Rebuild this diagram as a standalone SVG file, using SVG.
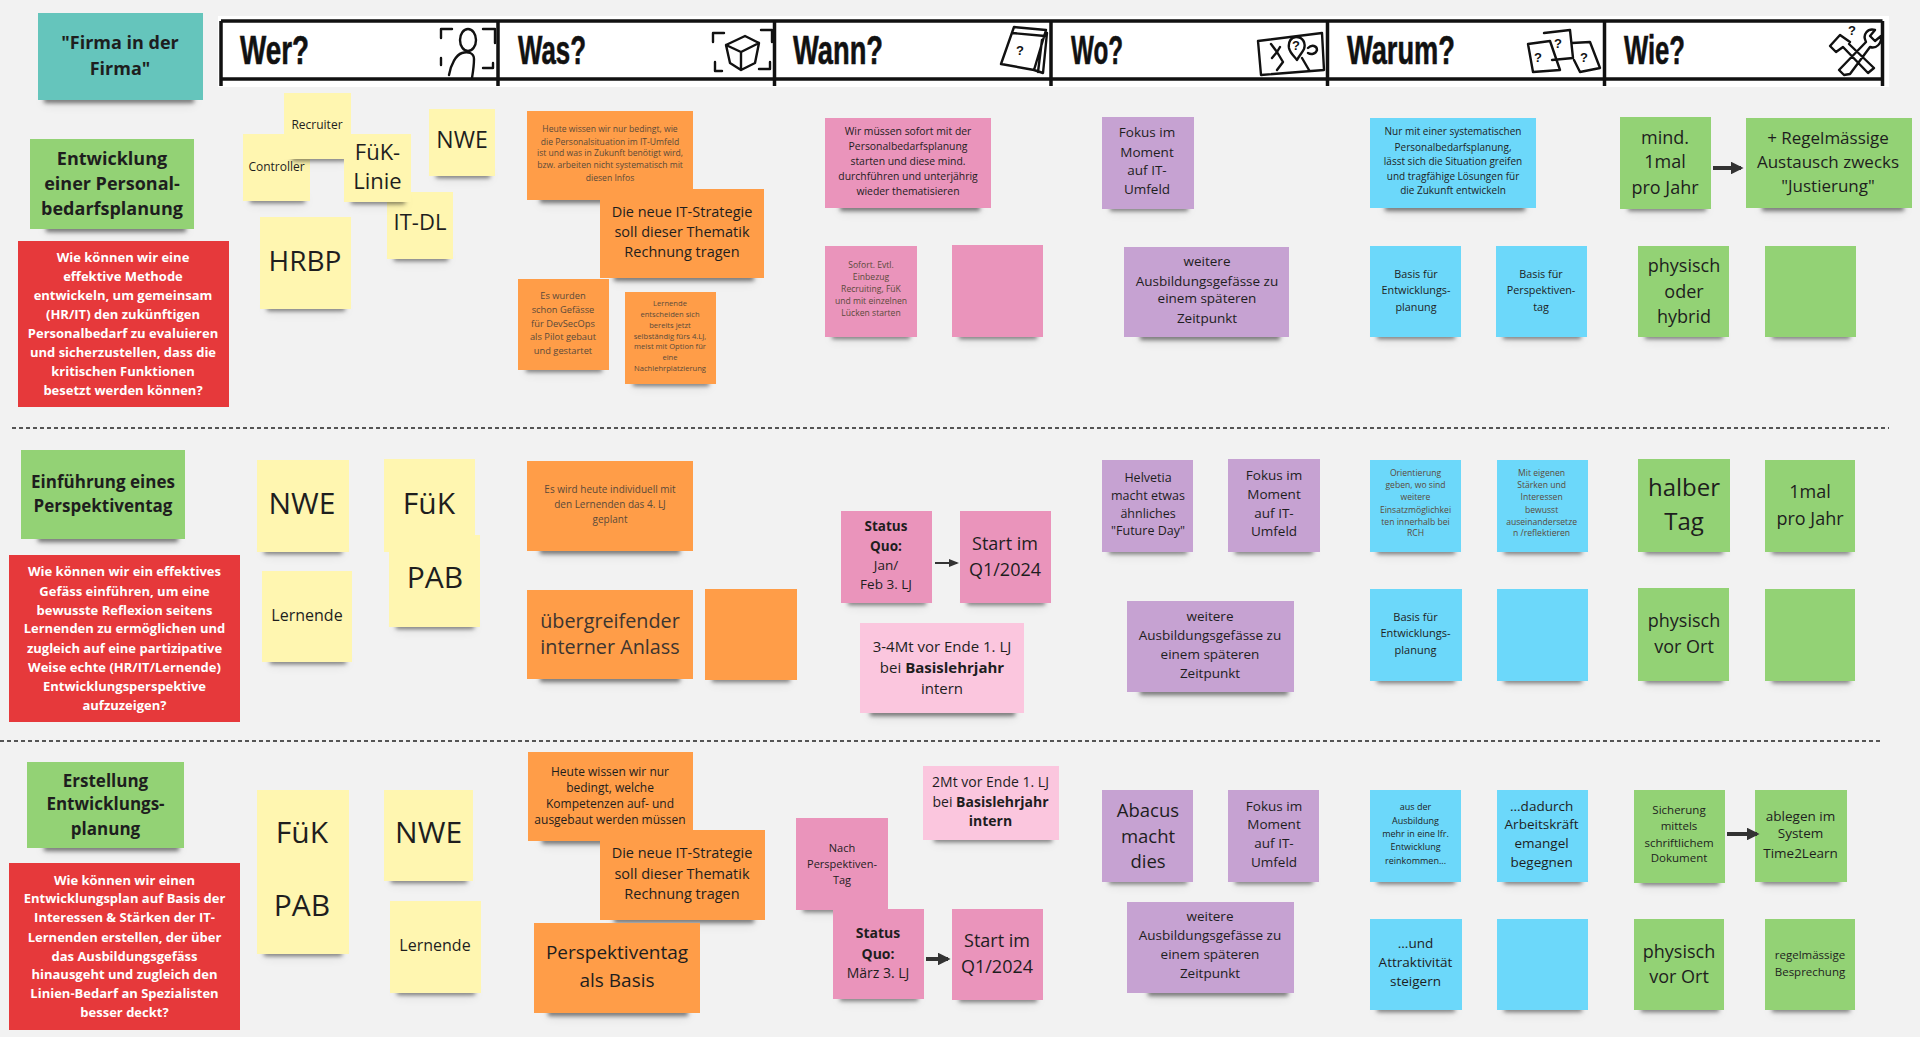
<svg xmlns="http://www.w3.org/2000/svg" width="1920" height="1037" viewBox="0 0 1920 1037">
<style>
.t{font-family:"Open Sans","Liberation Sans",sans-serif;text-anchor:middle;dominant-baseline:central;fill:#1e1e1e;transform:translateY(-.07em)}
.b{font-weight:700}
.w{fill:#fff;font-weight:700}
.l{fill:#5a4a3a}
.m{fill:#3d3530}
.sh{fill:#000;filter:url(#sf)}
.y{fill:#fff6b0}.o{fill:#ff9d48}.p{fill:#ea94bb}.v{fill:#c6a2d2}.c{fill:#6cd8fa}.g{fill:#93d275}.r{fill:#e6393b}.e{fill:#65c5bc}.q{fill:#fbc6de}
.hl{stroke:#111;stroke-width:3.5;fill:none}
.hd{font-family:"Liberation Sans Narrow","Liberation Sans",sans-serif;font-weight:700;font-size:41px;fill:#111;stroke:#111;stroke-width:.6}
.ic{stroke:#111;stroke-width:2.4;fill:none;stroke-linecap:round;stroke-linejoin:round}
.qm{font-family:"Liberation Sans",sans-serif;font-weight:700;font-size:13px;fill:#111;text-anchor:middle;dominant-baseline:central}
.d{stroke:#555;stroke-width:2;stroke-dasharray:4 3;fill:none}
.a{stroke:#333;fill:none}
</style>
<defs>
<filter id="sf" x="-20%" y="-300%" width="140%" height="800%">
<feGaussianBlur in="SourceAlpha" stdDeviation="2" result="a"/>
<feGaussianBlur in="SourceAlpha" stdDeviation="6" result="b"/>
<feComponentTransfer in="a" result="a2"><feFuncA type="linear" slope=".5"/></feComponentTransfer>
<feComponentTransfer in="b" result="b2"><feFuncA type="linear" slope=".15"/></feComponentTransfer>
<feMerge><feMergeNode in="b2"/><feMergeNode in="a2"/></feMerge>
</filter>
<marker id="ah" viewBox="0 0 10 10" refX="8" refY="5" markerWidth="3.2" markerHeight="3.2" orient="auto"><path d="M0 0L10 5L0 10z" fill="#333"/></marker>
<marker id="at" viewBox="0 0 10 10" refX="8" refY="5" markerWidth="5" markerHeight="5" orient="auto"><path d="M0 1L10 5L0 9z" fill="#333"/></marker>
</defs>
<rect width="1920" height="1037" fill="#f2f2f2"/>

<g id="header">
<rect x="218" y="16" width="1671" height="71" fill="#fff"/>
<path class="hl" d="M221 21H1882.5M221 79H1882.5M221 21V86M498 21V86M774.5 21V86M1051 21V86M1327.5 21V86M1604.5 21V86M1882.5 21V86"/>
<text class="hd" x="240" y="64" textLength="69" lengthAdjust="spacingAndGlyphs">Wer?</text>
<text class="hd" x="518" y="64" textLength="68" lengthAdjust="spacingAndGlyphs">Was?</text>
<text class="hd" x="793" y="64" textLength="90" lengthAdjust="spacingAndGlyphs">Wann?</text>
<text class="hd" x="1071" y="64" textLength="52" lengthAdjust="spacingAndGlyphs">Wo?</text>
<text class="hd" x="1347" y="64" textLength="108" lengthAdjust="spacingAndGlyphs">Warum?</text>
<text class="hd" x="1624" y="64" textLength="61" lengthAdjust="spacingAndGlyphs">Wie?</text>
<path class="ic" d="M441 38V29H452M483 29H495V43M441 58V65M483 68H493V63"/>
<ellipse class="ic" cx="468" cy="40" rx="8" ry="11"/>
<path class="ic" d="M449 75C451 64 456 55 462 53C468 51 474 53 474 59C474 66 473 72 472 78"/>
<path class="ic" d="M713 42V33H724M761 30H772V42M715 62V71H722M759 69H770V62"/>
<path class="ic" d="M726 45L745 36L759 43L755 63L741 70L730 63ZM726 45L741 52L759 43M741 52V70"/>
<path class="ic" d="M1014 27L1046 30L1034 70L1001 64ZM1012 33L1045 36M1047 33L1043 73L1034 70M1042 40L1038 72"/>
<text class="qm" x="1020" y="50">?</text>
<path class="ic" d="M1258 41L1322 33L1324 70L1261 75Z"/>
<path class="ic" d="M1296 37C1303 37 1306 43 1304 49C1302 53 1299 56 1297 60C1294 56 1290 53 1289 48C1288 42 1291 37 1296 37ZM1271 44L1277 52L1272 58M1280 47L1277 52L1283 62L1277 70M1302 58L1309 70M1308 48C1312 44 1317 46 1317 50C1316 54 1311 55 1308 53"/>
<text class="qm" x="1296" y="45" font-size="11">?</text>
<path class="ic" d="M1528 44L1550 41L1560 70L1533 72ZM1544 33L1570 30L1573 58L1552 60M1572 43L1590 42L1600 68L1580 72L1574 60"/>
<text class="qm" x="1538" y="57">?</text><text class="qm" x="1558" y="43">?</text><text class="qm" x="1584" y="57">?</text>
<path class="ic" d="M1850 42L1840 35L1830 46L1836 52L1843 47L1868 73L1874 68L1849 44M1844 75L1839 70L1866 42C1862 34 1868 28 1875 30L1870 36L1875 41L1881 36C1882 44 1876 49 1870 47L1850 74Z"/>
<text class="qm" x="1852" y="30">?</text>
</g>

<g id="separators">
<path class="d" d="M12 428H1889"/>
<path class="d" d="M0 741H1881"/>
</g>

<g id="title"><rect class="sh" x="44" y="97" width="150" height="6"/><rect class="e" x="38" y="13" width="165" height="87"/><text class="t b" font-size="18"><tspan x="120" y="43">"Firma in der</tspan><tspan x="120" y="69">Firma"</tspan></text></g>

<!-- Row 1 -->
<g id="r1-title"><rect class="sh" x="46" y="226" width="140" height="6"/><rect class="g" x="30" y="139" width="164" height="90"/><text class="t b" font-size="18"><tspan x="112" y="159">Entwicklung</tspan><tspan x="112" y="184">einer Personal-</tspan><tspan x="112" y="209">bedarfsplanung</tspan></text></g>
<g id="r1-frage"><rect class="r" x="18" y="241" width="211" height="166"/><text class="t w" font-size="13"><tspan x="123" y="258">Wie können wir eine</tspan><tspan x="123" y="277">effektive Methode</tspan><tspan x="123" y="296">entwickeln, um gemeinsam</tspan><tspan x="123" y="315">(HR/IT) den zukünftigen</tspan><tspan x="123" y="334">Personalbedarf zu evaluieren</tspan><tspan x="123" y="353">und sicherzustellen, dass die</tspan><tspan x="123" y="372">kritischen Funktionen</tspan><tspan x="123" y="391">besetzt werden können?</tspan></text></g>
<g id="r1-controller"><rect class="sh" x="250" y="198" width="55" height="5"/><rect class="y" x="243" y="134" width="67" height="67"/><text class="t" font-size="12" x="276.5" y="167">Controller</text></g>
<g id="r1-recruiter"><rect class="sh" x="292" y="156" width="55" height="5"/><rect class="y" x="284" y="93" width="67" height="66"/><text class="t" font-size="12" x="317" y="125">Recruiter</text></g>
<g id="r1-itdl"><rect class="sh" x="394" y="256" width="54" height="5"/><rect class="y" x="387" y="192" width="66" height="67"/><text class="t" font-size="22" x="420" y="223">IT-DL</text></g>
<g id="r1-fuek"><rect class="sh" x="351" y="199" width="54" height="5"/><rect class="y" x="344" y="134" width="67" height="68"/><text class="t" font-size="22"><tspan x="377.5" y="153">FüK-</tspan><tspan x="377.5" y="182">Linie</tspan></text></g>
<g id="r1-nwe"><rect class="sh" x="436" y="173" width="54" height="5"/><rect class="y" x="429" y="109" width="66" height="67"/><text class="t" font-size="23" x="462" y="141">NWE</text></g>
<g id="r1-hrbp"><rect class="sh" x="267" y="306" width="78" height="5"/><rect class="y" x="260" y="217" width="91" height="92"/><text class="t" font-size="28" x="305" y="262">HRBP</text></g>
<g id="r1-was1"><rect class="sh" x="540" y="197" width="140" height="6"/><rect class="o" x="527" y="111" width="166" height="89"/><text class="t l" font-size="8.6"><tspan x="610" y="130">Heute wissen wir nur bedingt, wie</tspan><tspan x="610" y="143">die Personalsituation im IT-Umfeld</tspan><tspan x="610" y="154">ist und was in Zukunft benötigt wird,</tspan><tspan x="610" y="166">bzw. arbeiten nicht systematisch mit</tspan><tspan x="610" y="179">diesen Infos</tspan></text></g>
<g id="r1-was2"><rect class="sh" x="614" y="275" width="140" height="6"/><rect class="o" x="600" y="189" width="164" height="89"/><text class="t" font-size="14.5"><tspan x="682" y="212">Die neue IT-Strategie</tspan><tspan x="682" y="232">soll dieser Thematik</tspan><tspan x="682" y="252">Rechnung tragen</tspan></text></g>
<g id="r1-was3"><rect class="sh" x="526" y="367" width="76" height="5"/><rect class="o" x="518" y="279" width="91" height="91"/><text class="t l" font-size="9.3"><tspan x="563" y="296">Es wurden</tspan><tspan x="563" y="310">schon Gefässe</tspan><tspan x="563" y="324">für DevSecOps</tspan><tspan x="563" y="337">als Pilot gebaut</tspan><tspan x="563" y="351">und gestartet</tspan></text></g>
<g id="r1-was4"><rect class="sh" x="633" y="381" width="76" height="5"/><rect class="o" x="625" y="292" width="91" height="92"/><text class="t l" font-size="7.6"><tspan x="670" y="304">Lernende</tspan><tspan x="670" y="315">entscheiden sich</tspan><tspan x="670" y="326">bereits jetzt</tspan><tspan x="670" y="337">selbständig fürs 4.LJ,</tspan><tspan x="670" y="347">meist mit Option für</tspan><tspan x="670" y="358">eine</tspan><tspan x="670" y="369">Nachlehrplatzierung</tspan></text></g>
<g id="r1-wann1"><rect class="sh" x="840" y="205" width="140" height="6"/><rect class="p" x="825" y="118" width="166" height="90"/><text class="t" font-size="10.4"><tspan x="908" y="132">Wir müssen sofort mit der</tspan><tspan x="908" y="147">Personalbedarfsplanung</tspan><tspan x="908" y="162">starten und diese mind.</tspan><tspan x="908" y="177">durchführen und unterjährig</tspan><tspan x="908" y="192">wieder thematisieren</tspan></text></g>
<g id="r1-wann2"><rect class="sh" x="832" y="334" width="78" height="5"/><rect class="p" x="825" y="246" width="92" height="91"/><text class="t l" font-size="8.6"><tspan x="871" y="266">Sofort. Evtl.</tspan><tspan x="871" y="278">Einbezug</tspan><tspan x="871" y="290">Recruiting, FüK</tspan><tspan x="871" y="302">und mit einzelnen</tspan><tspan x="871" y="314">Lücken starten</tspan></text></g>
<g id="r1-wann3"><rect class="sh" x="959" y="334" width="78" height="5"/><rect class="p" x="952" y="245" width="91" height="92"/></g>
<g id="r1-wo1"><rect class="sh" x="1110" y="206" width="78" height="5"/><rect class="v" x="1102" y="117" width="92" height="92"/><text class="t" font-size="13.5"><tspan x="1147" y="133">Fokus im</tspan><tspan x="1147" y="153">Moment</tspan><tspan x="1147" y="171">auf IT-</tspan><tspan x="1147" y="190">Umfeld</tspan></text></g>
<g id="r1-wo2"><rect class="sh" x="1140" y="334" width="140" height="6"/><rect class="v" x="1124" y="247" width="165" height="90"/><text class="t" font-size="13.5"><tspan x="1207" y="262">weitere</tspan><tspan x="1207" y="282">Ausbildungsgefässe zu</tspan><tspan x="1207" y="299">einem späteren</tspan><tspan x="1207" y="319">Zeitpunkt</tspan></text></g>
<g id="r1-warum1"><rect class="sh" x="1385" y="205" width="140" height="6"/><rect class="c" x="1370" y="118" width="166" height="90"/><text class="t" font-size="10"><tspan x="1453" y="132">Nur mit einer systematischen</tspan><tspan x="1453" y="148">Personalbedarfsplanung,</tspan><tspan x="1453" y="162">lässt sich die Situation greifen</tspan><tspan x="1453" y="177">und tragfähige Lösungen für</tspan><tspan x="1453" y="191">die Zukunft entwickeln</tspan></text></g>
<g id="r1-warum2"><rect class="sh" x="1377" y="334" width="78" height="5"/><rect class="c" x="1370" y="246" width="91" height="91"/><text class="t" font-size="10.8"><tspan x="1416" y="274">Basis für</tspan><tspan x="1416" y="290">Entwicklungs-</tspan><tspan x="1416" y="307">planung</tspan></text></g>
<g id="r1-warum3"><rect class="sh" x="1503" y="334" width="78" height="5"/><rect class="c" x="1496" y="246" width="91" height="91"/><text class="t" font-size="10.8"><tspan x="1541" y="274">Basis für</tspan><tspan x="1541" y="290">Perspektiven-</tspan><tspan x="1541" y="307">tag</tspan></text></g>
<g id="r1-wie1"><rect class="sh" x="1628" y="206" width="78" height="5"/><rect class="g" x="1620" y="117" width="91" height="92"/><text class="t" font-size="18"><tspan x="1665" y="138">mind.</tspan><tspan x="1665" y="162">1mal</tspan><tspan x="1665" y="188">pro Jahr</tspan></text></g>
<g id="r1-wie2"><rect class="sh" x="1762" y="205" width="142" height="6"/><rect class="g" x="1746" y="118" width="166" height="90"/><text class="t" font-size="17"><tspan x="1828" y="138">+ Regelmässige</tspan><tspan x="1828" y="162">Austausch zwecks</tspan><tspan x="1828" y="186">"Justierung"</tspan></text></g>
<g id="r1-wie3"><rect class="sh" x="1645" y="334" width="78" height="5"/><rect class="g" x="1638" y="246" width="91" height="91"/><text class="t" font-size="18"><tspan x="1684" y="266">physisch</tspan><tspan x="1684" y="292">oder</tspan><tspan x="1684" y="317">hybrid</tspan></text></g>
<g id="r1-wie4"><rect class="sh" x="1772" y="334" width="78" height="5"/><rect class="g" x="1765" y="246" width="91" height="91"/></g>

<!-- Row 2 -->
<g id="r2-title"><rect class="sh" x="38" y="536" width="140" height="6"/><rect class="g" x="21" y="450" width="164" height="89"/><text class="t b" font-size="17"><tspan x="103" y="482">Einführung eines</tspan><tspan x="103" y="506">Perspektiventag</tspan></text></g>
<g id="r2-frage"><rect class="r" x="9" y="555" width="231" height="167"/><text class="t w" font-size="13"><tspan x="124.5" y="572">Wie können wir ein effektives</tspan><tspan x="124.5" y="592">Gefäss einführen, um eine</tspan><tspan x="124.5" y="611">bewusste Reflexion seitens</tspan><tspan x="124.5" y="629">Lernenden zu ermöglichen und</tspan><tspan x="124.5" y="649">zugleich auf eine partizipative</tspan><tspan x="124.5" y="668">Weise echte (HR/IT/Lernende)</tspan><tspan x="124.5" y="687">Entwicklungsperspektive</tspan><tspan x="124.5" y="706">aufzuzeigen?</tspan></text></g>
<g id="r2-nwe"><rect class="sh" x="264" y="549" width="78" height="5"/><rect class="y" x="257" y="460" width="92" height="92"/><text class="t" font-size="30" x="302" y="505">NWE</text></g>
<g id="r2-fuek"><rect class="y" x="384" y="459" width="91" height="93"/><text class="t" font-size="30" x="429" y="505">FüK</text></g>
<g id="r2-lernende"><rect class="sh" x="270" y="659" width="76" height="5"/><rect class="y" x="262" y="571" width="90" height="91"/><text class="t" font-size="16" x="307" y="616">Lernende</text></g>
<g id="r2-pab"><rect class="sh" x="396" y="624" width="78" height="5"/><rect class="y" x="389" y="535" width="91" height="92"/><text class="t" font-size="30" x="435" y="579">PAB</text></g>
<g id="r2-was1"><rect class="sh" x="540" y="548" width="140" height="6"/><rect class="o" x="527" y="461" width="166" height="90"/><text class="t l" font-size="10"><tspan x="610" y="490">Es wird heute individuell mit</tspan><tspan x="610" y="505">den Lernenden das 4. LJ</tspan><tspan x="610" y="520">geplant</tspan></text></g>
<g id="r2-was2"><rect class="sh" x="540" y="676" width="140" height="6"/><rect class="o" x="527" y="590" width="166" height="89"/><text class="t m" font-size="19.8"><tspan x="610" y="621">übergreifender</tspan><tspan x="610" y="647">interner Anlass</tspan></text></g>
<g id="r2-was3"><rect class="sh" x="712" y="677" width="78" height="5"/><rect class="o" x="705" y="589" width="92" height="91"/></g>
<g id="r2-wann1"><rect class="sh" x="848" y="600" width="78" height="5"/><rect class="p" x="841" y="511" width="91" height="92"/><text class="t" font-size="13.5"><tspan x="886" y="527" class="b">Status</tspan><tspan x="886" y="547" class="b">Quo:</tspan><tspan x="886" y="566">Jan/</tspan><tspan x="886" y="585">Feb 3. LJ</tspan></text></g>
<g id="r2-wann2"><rect class="sh" x="967" y="600" width="78" height="5"/><rect class="p" x="960" y="511" width="91" height="92"/><text class="t" font-size="18"><tspan x="1005" y="544">Start im</tspan><tspan x="1005" y="570">Q1/2024</tspan></text></g>
<g id="r2-wann3"><rect class="sh" x="870" y="710" width="145" height="6"/><rect class="q" x="860" y="623" width="164" height="90"/><text class="t" font-size="15"><tspan x="942" y="647">3-4Mt vor Ende 1. LJ</tspan><tspan x="942" y="668">bei <tspan class="b">Basislehrjahr</tspan></tspan><tspan x="942" y="689">intern</tspan></text></g>
<g id="r2-wo1"><rect class="sh" x="1109" y="549" width="78" height="5"/><rect class="v" x="1102" y="460" width="91" height="92"/><text class="t" font-size="12.5"><tspan x="1148" y="478">Helvetia</tspan><tspan x="1148" y="496">macht etwas</tspan><tspan x="1148" y="514">ähnliches</tspan><tspan x="1148" y="531">"Future Day"</tspan></text></g>
<g id="r2-wo2"><rect class="sh" x="1235" y="549" width="78" height="5"/><rect class="v" x="1228" y="459" width="92" height="93"/><text class="t" font-size="13.5"><tspan x="1274" y="476">Fokus im</tspan><tspan x="1274" y="495">Moment</tspan><tspan x="1274" y="514">auf IT-</tspan><tspan x="1274" y="532">Umfeld</tspan></text></g>
<g id="r2-wo3"><rect class="sh" x="1140" y="689" width="148" height="6"/><rect class="v" x="1127" y="601" width="167" height="91"/><text class="t" font-size="13.5"><tspan x="1210" y="617">weitere</tspan><tspan x="1210" y="636">Ausbildungsgefässe zu</tspan><tspan x="1210" y="655">einem späteren</tspan><tspan x="1210" y="674">Zeitpunkt</tspan></text></g>
<g id="r2-warum1"><rect class="sh" x="1377" y="549" width="78" height="5"/><rect class="c" x="1370" y="460" width="91" height="92"/><text class="t l" font-size="8.6"><tspan x="1415.5" y="474">Orientierung</tspan><tspan x="1415.5" y="486">geben, wo sind</tspan><tspan x="1415.5" y="498">weitere</tspan><tspan x="1415.5" y="511">Einsatzmöglichkei</tspan><tspan x="1415.5" y="523">ten innerhalb bei</tspan><tspan x="1415.5" y="534">RCH</tspan></text></g>
<g id="r2-warum2"><rect class="sh" x="1504" y="549" width="78" height="5"/><rect class="c" x="1497" y="460" width="91" height="92"/><text class="t l" font-size="8.6"><tspan x="1541.6" y="474">Mit eigenen</tspan><tspan x="1541.6" y="486">Stärken und</tspan><tspan x="1541.6" y="498">Interessen</tspan><tspan x="1541.6" y="511">bewusst</tspan><tspan x="1541.6" y="523">auseinandersetze</tspan><tspan x="1541.6" y="534">n /reflektieren</tspan></text></g>
<g id="r2-warum3"><rect class="sh" x="1377" y="678" width="78" height="5"/><rect class="c" x="1370" y="589" width="92" height="92"/><text class="t" font-size="11"><tspan x="1415.5" y="617">Basis für</tspan><tspan x="1415.5" y="633">Entwicklungs-</tspan><tspan x="1415.5" y="650">planung</tspan></text></g>
<g id="r2-warum4"><rect class="sh" x="1504" y="678" width="78" height="5"/><rect class="c" x="1497" y="589" width="91" height="92"/></g>
<g id="r2-wie1"><rect class="sh" x="1645" y="549" width="78" height="5"/><rect class="g" x="1638" y="459" width="92" height="93"/><text class="t" font-size="24"><tspan x="1684" y="488">halber</tspan><tspan x="1684" y="522">Tag</tspan></text></g>
<g id="r2-wie2"><rect class="sh" x="1772" y="549" width="78" height="5"/><rect class="g" x="1765" y="460" width="90" height="92"/><text class="t" font-size="18"><tspan x="1810" y="492">1mal</tspan><tspan x="1810" y="519">pro Jahr</tspan></text></g>
<g id="r2-wie3"><rect class="sh" x="1645" y="678" width="78" height="5"/><rect class="g" x="1638" y="588" width="91" height="93"/><text class="t" font-size="18"><tspan x="1684" y="621">physisch</tspan><tspan x="1684" y="647">vor Ort</tspan></text></g>
<g id="r2-wie4"><rect class="sh" x="1772" y="678" width="78" height="5"/><rect class="g" x="1765" y="589" width="90" height="92"/></g>

<!-- Row 3 -->
<g id="r3-title"><rect class="sh" x="44" y="845" width="135" height="6"/><rect class="g" x="27" y="762" width="157" height="86"/><text class="t b" font-size="17"><tspan x="105.5" y="781">Erstellung</tspan><tspan x="105.5" y="804">Entwicklungs-</tspan><tspan x="105.5" y="829">planung</tspan></text></g>
<g id="r3-frage"><rect class="r" x="9" y="863" width="231" height="167"/><text class="t w" font-size="13"><tspan x="124.5" y="881">Wie können wir einen</tspan><tspan x="124.5" y="899">Entwicklungsplan auf Basis der</tspan><tspan x="124.5" y="918">Interessen &amp; Stärken der IT-</tspan><tspan x="124.5" y="938">Lernenden erstellen, der über</tspan><tspan x="124.5" y="957">das Ausbildungsgefäss</tspan><tspan x="124.5" y="975">hinausgeht und zugleich den</tspan><tspan x="124.5" y="994">Linien-Bedarf an Spezialisten</tspan><tspan x="124.5" y="1013">besser deckt?</tspan></text></g>
<g id="r3-fuek"><rect class="y" x="257" y="790" width="92" height="90"/><text class="t" font-size="30" x="302" y="834">FüK</text></g>
<g id="r3-pab"><rect class="sh" x="264" y="951" width="78" height="5"/><rect class="y" x="257" y="864" width="92" height="90"/><text class="t" font-size="30" x="302" y="907">PAB</text></g>
<g id="r3-nwe"><rect class="sh" x="391" y="878" width="76" height="5"/><rect class="y" x="384" y="790" width="89" height="91"/><text class="t" font-size="30" x="428.6" y="834">NWE</text></g>
<g id="r3-lernende"><rect class="sh" x="397" y="990" width="78" height="5"/><rect class="y" x="390" y="901" width="91" height="92"/><text class="t" font-size="16" x="435" y="946">Lernende</text></g>
<g id="r3-was1"><rect class="sh" x="542" y="838" width="140" height="6"/><rect class="o" x="528" y="752" width="165" height="89"/><text class="t" font-size="12"><tspan x="610" y="772">Heute wissen wir nur</tspan><tspan x="610" y="788">bedingt, welche</tspan><tspan x="610" y="804">Kompetenzen auf- und</tspan><tspan x="610" y="820">ausgebaut werden müssen</tspan></text></g>
<g id="r3-was2"><rect class="sh" x="614" y="917" width="140" height="6"/><rect class="o" x="600" y="830" width="165" height="90"/><text class="t" font-size="14.5"><tspan x="682" y="853">Die neue IT-Strategie</tspan><tspan x="682" y="874">soll dieser Thematik</tspan><tspan x="682" y="894">Rechnung tragen</tspan></text></g>
<g id="r3-was3"><rect class="sh" x="548" y="1010" width="140" height="6"/><rect class="o" x="534" y="923" width="166" height="90"/><text class="t" font-size="19"><tspan x="617" y="953">Perspektiventag</tspan><tspan x="617" y="981">als Basis</tspan></text></g>
<g id="r3-wann1"><rect class="sh" x="803" y="907" width="70" height="5"/><rect class="p" x="796" y="818" width="92" height="92"/><text class="t" font-size="11"><tspan x="842" y="848">Nach</tspan><tspan x="842" y="864">Perspektiven-</tspan><tspan x="842" y="880">Tag</tspan></text></g>
<g id="r3-wann2"><rect class="sh" x="840" y="996" width="78" height="5"/><rect class="p" x="833" y="909" width="91" height="90"/><text class="t" font-size="14"><tspan x="878" y="933" class="b">Status</tspan><tspan x="878" y="954" class="b">Quo:</tspan><tspan x="878" y="973">März 3. LJ</tspan></text></g>
<g id="r3-wann3"><rect class="sh" x="959" y="997" width="78" height="5"/><rect class="p" x="952" y="909" width="91" height="91"/><text class="t" font-size="18"><tspan x="997" y="941">Start im</tspan><tspan x="997" y="967">Q1/2024</tspan></text></g>
<g id="r3-wann4"><rect class="sh" x="934" y="837" width="118" height="5"/><rect class="q" x="923" y="766" width="136" height="74"/><text class="t" font-size="14"><tspan x="990.5" y="782">2Mt vor Ende 1. LJ</tspan><tspan x="990.5" y="802">bei <tspan class="b">Basislehrjahr</tspan></tspan><tspan x="990.5" y="821" class="b">intern</tspan></text></g>
<g id="r3-wo1"><rect class="sh" x="1109" y="879" width="78" height="5"/><rect class="v" x="1102" y="790" width="91" height="92"/><text class="t" font-size="18.5"><tspan x="1148" y="810">Abacus</tspan><tspan x="1148" y="836">macht</tspan><tspan x="1148" y="861">dies</tspan></text></g>
<g id="r3-wo2"><rect class="sh" x="1235" y="879" width="78" height="5"/><rect class="v" x="1228" y="790" width="91" height="92"/><text class="t" font-size="13.5"><tspan x="1274" y="807">Fokus im</tspan><tspan x="1274" y="825">Moment</tspan><tspan x="1274" y="844">auf IT-</tspan><tspan x="1274" y="863">Umfeld</tspan></text></g>
<g id="r3-wo3"><rect class="sh" x="1148" y="990" width="140" height="6"/><rect class="v" x="1127" y="902" width="167" height="91"/><text class="t" font-size="13.5"><tspan x="1210" y="917">weitere</tspan><tspan x="1210" y="936">Ausbildungsgefässe zu</tspan><tspan x="1210" y="955">einem späteren</tspan><tspan x="1210" y="974">Zeitpunkt</tspan></text></g>
<g id="r3-warum1"><rect class="sh" x="1377" y="879" width="78" height="5"/><rect class="c" x="1370" y="790" width="91" height="92"/><text class="t" font-size="9"><tspan x="1415.5" y="807">aus der</tspan><tspan x="1415.5" y="821">Ausbildung</tspan><tspan x="1415.5" y="834">mehr in eine lfr.</tspan><tspan x="1415.5" y="847">Entwicklung</tspan><tspan x="1415.5" y="861">reinkommen...</tspan></text></g>
<g id="r3-warum2"><rect class="sh" x="1504" y="879" width="78" height="5"/><rect class="c" x="1497" y="790" width="91" height="92"/><text class="t" font-size="13.5"><tspan x="1541.6" y="807">...dadurch</tspan><tspan x="1541.6" y="825">Arbeitskräft</tspan><tspan x="1541.6" y="844">emangel</tspan><tspan x="1541.6" y="863">begegnen</tspan></text></g>
<g id="r3-warum3"><rect class="sh" x="1377" y="1007" width="78" height="5"/><rect class="c" x="1370" y="919" width="92" height="91"/><text class="t" font-size="13.5"><tspan x="1415.5" y="944">...und</tspan><tspan x="1415.5" y="963">Attraktivität</tspan><tspan x="1415.5" y="982">steigern</tspan></text></g>
<g id="r3-warum4"><rect class="sh" x="1504" y="1007" width="78" height="5"/><rect class="c" x="1497" y="919" width="91" height="91"/></g>
<g id="r3-wie1"><rect class="sh" x="1641" y="880" width="78" height="5"/><rect class="g" x="1634" y="790" width="91" height="93"/><text class="t" font-size="11.5"><tspan x="1679" y="810">Sicherung</tspan><tspan x="1679" y="826">mittels</tspan><tspan x="1679" y="843">schriftlichem</tspan><tspan x="1679" y="858">Dokument</tspan></text></g>
<g id="r3-wie2"><rect class="sh" x="1762" y="879" width="78" height="5"/><rect class="g" x="1755" y="790" width="92" height="92"/><text class="t" font-size="13.5"><tspan x="1800.5" y="817">ablegen im</tspan><tspan x="1800.5" y="834">System</tspan><tspan x="1800.5" y="854">Time2Learn</tspan></text></g>
<g id="r3-wie3"><rect class="sh" x="1641" y="1007" width="78" height="5"/><rect class="g" x="1634" y="919" width="90" height="91"/><text class="t" font-size="18"><tspan x="1679" y="952">physisch</tspan><tspan x="1679" y="977">vor Ort</tspan></text></g>
<g id="r3-wie4"><rect class="sh" x="1772" y="1007" width="78" height="5"/><rect class="g" x="1765" y="919" width="90" height="91"/><text class="t" font-size="11.5"><tspan x="1810" y="955">regelmässige</tspan><tspan x="1810" y="972">Besprechung</tspan></text></g>

<g id="connectors">
<path class="a" stroke-width="4" marker-end="url(#ah)" d="M1713 168H1741"/>
<path class="a" stroke-width="2" marker-end="url(#at)" d="M935 563H957"/>
<path class="a" stroke-width="4" marker-end="url(#ah)" d="M926 959H948"/>
<path class="a" stroke-width="4" marker-end="url(#ah)" d="M1727 834H1757"/>
</g>
</svg>
